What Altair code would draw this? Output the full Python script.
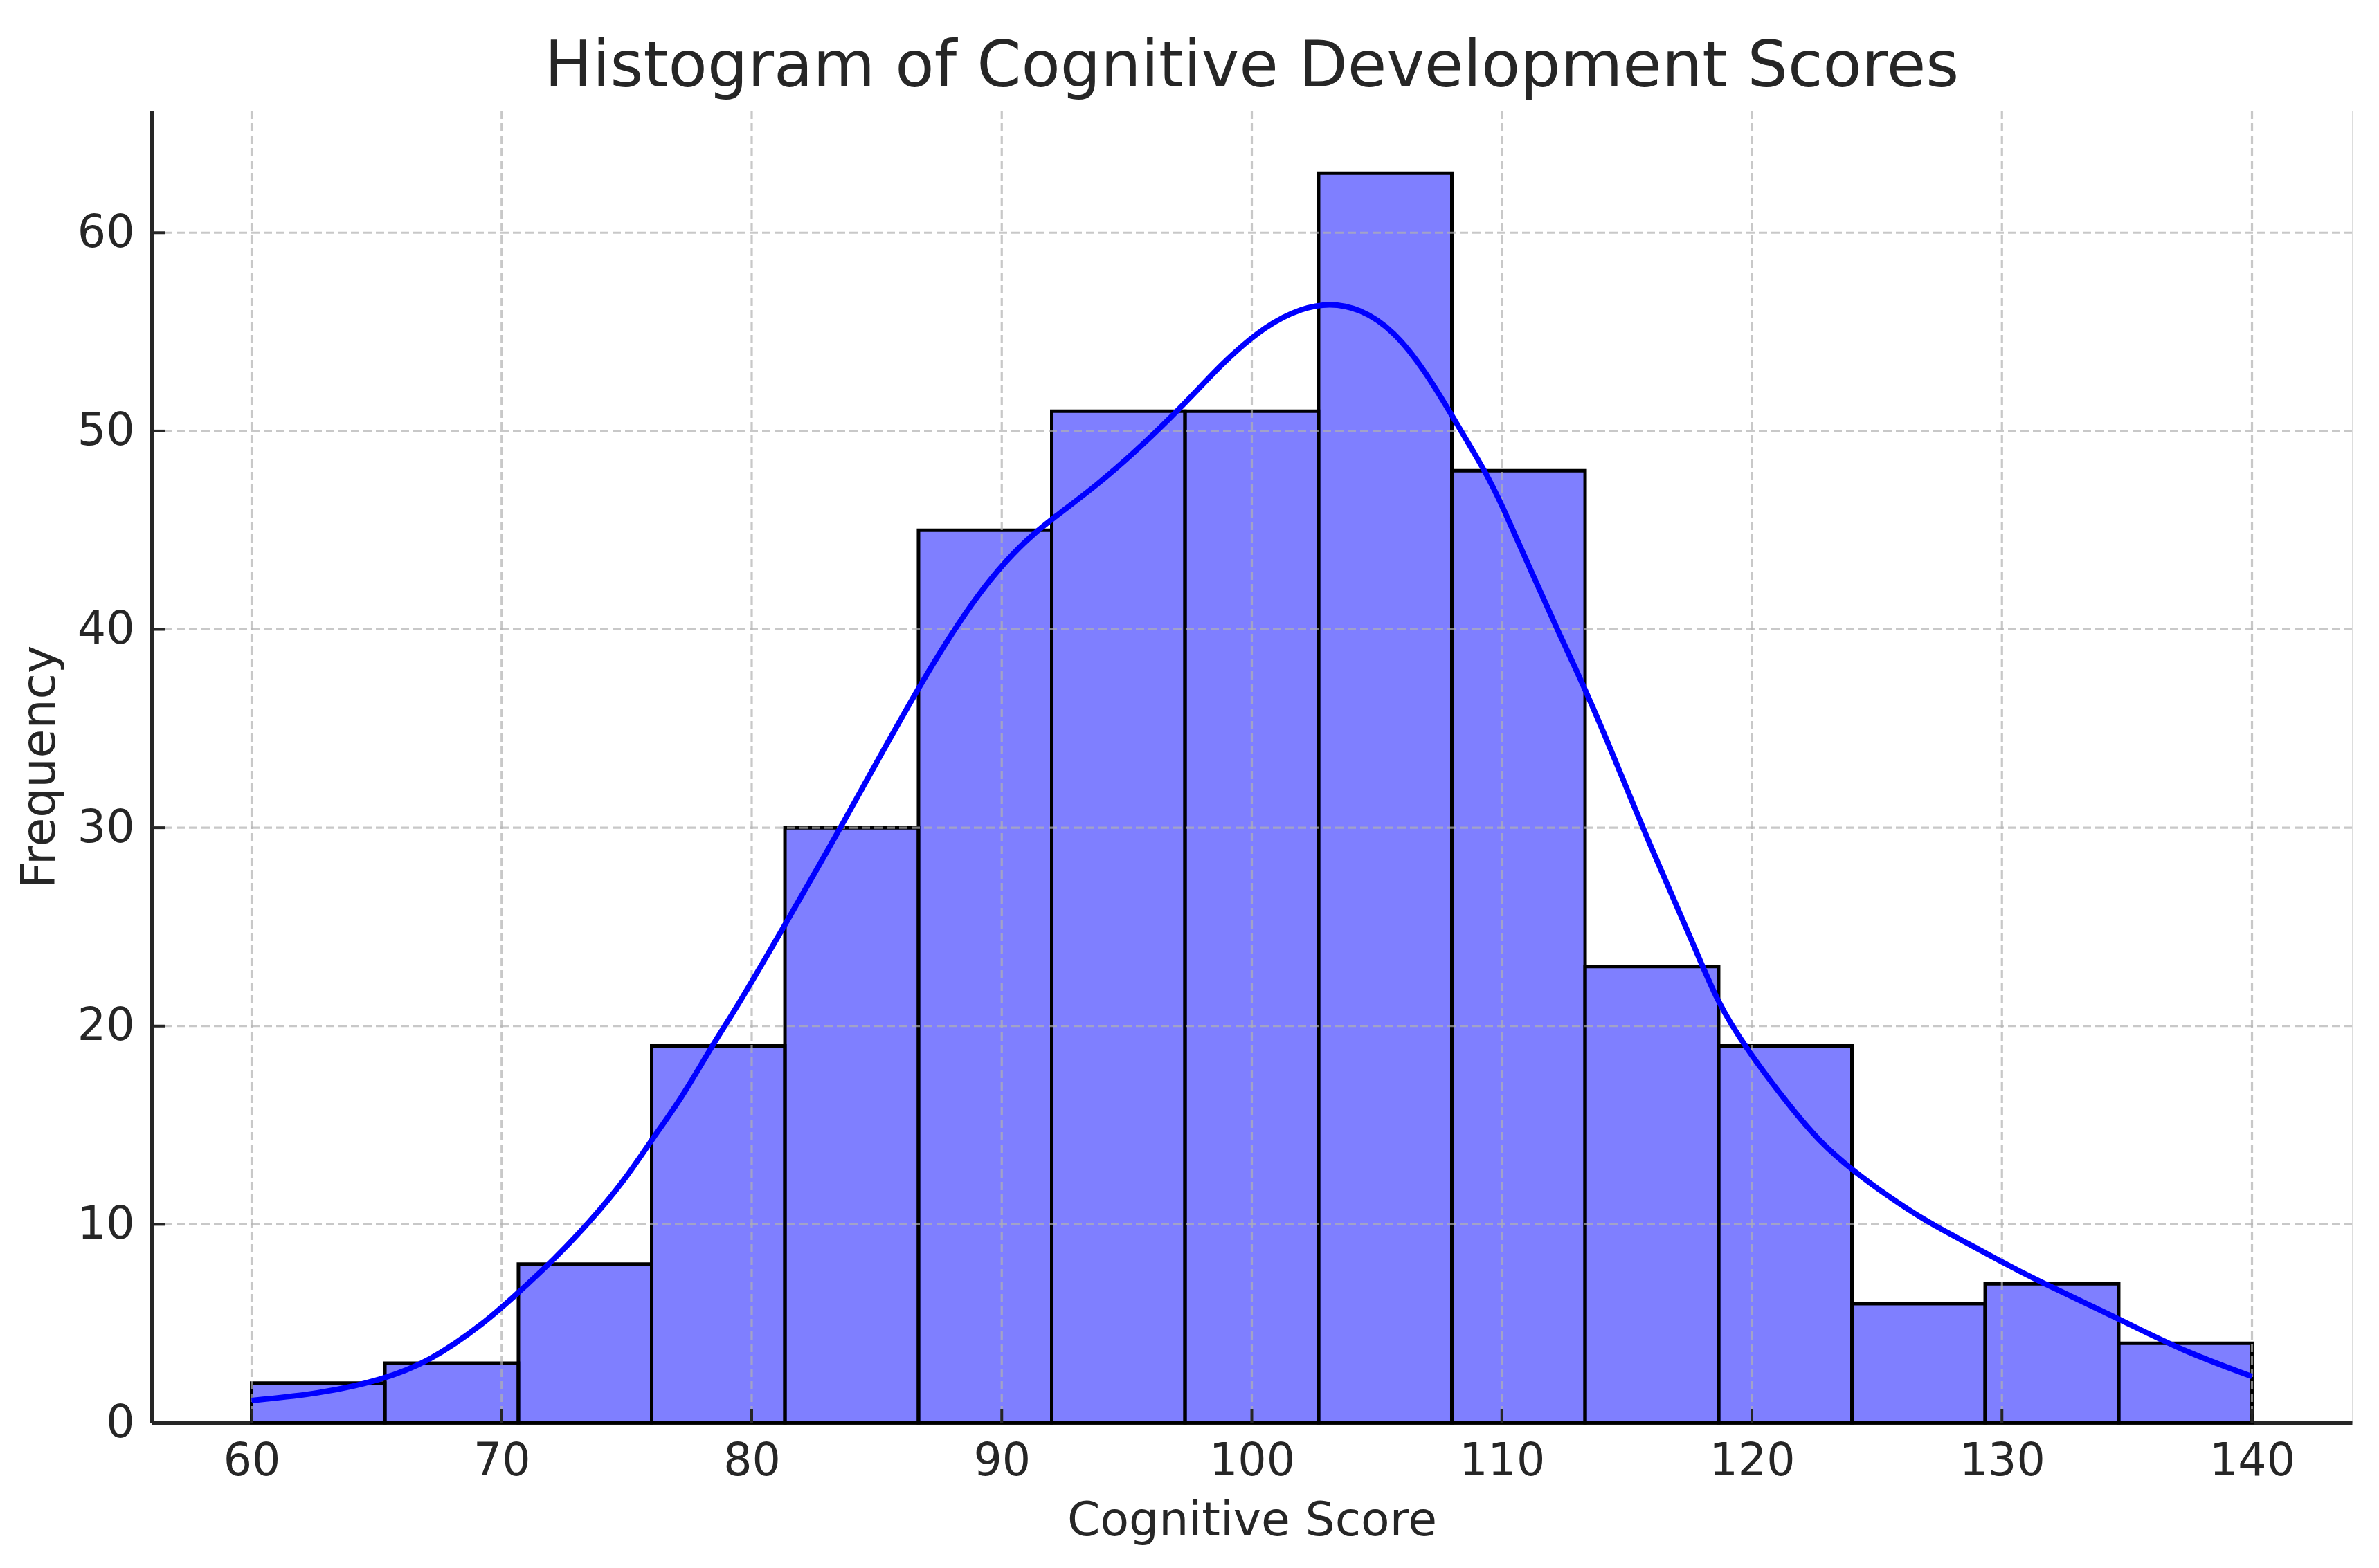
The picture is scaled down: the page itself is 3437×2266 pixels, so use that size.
import altair as alt
import pandas as pd

# ---- data ----
BIN_EDGES = [60.0, 65.33, 70.67, 76.0, 81.33, 86.67, 92.0, 97.33, 102.67,
             108.0, 113.33, 118.67, 124.0, 129.33, 134.67, 140.0]
COUNTS = [2, 3, 8, 19, 30, 45, 51, 51, 63, 48, 23, 19, 6, 7, 4]

KDE_X = [60.0, 62.7, 65.2, 67.1, 69.3, 70.7, 72.1, 73.5, 74.9, 76.0, 77.2,
         78.4, 79.5, 81.3, 83.5, 86.8, 89.1, 91.2, 93.7, 97.0, 98.8, 100.6,
         102.0, 103.1, 104.3, 105.7, 107.0, 107.9, 109.4, 110.0, 111.2, 112.3,
         113.3, 114.5, 115.8, 117.7, 118.6, 119.8, 121.4, 122.7, 124.1, 125.5,
         126.9, 128.3, 130.0, 131.2, 134.7, 137.2, 140.0]
KDE_Y = [1.12, 1.45, 2.15, 3.07, 5.0, 6.6, 8.23, 10.09, 12.18, 14.27, 16.36,
         18.98, 21.13, 25.04, 29.85, 37.45, 41.98, 44.92, 47.05, 50.9, 53.44, 55.37,
         56.2, 56.45, 56.2, 55.07, 52.9, 51.0, 47.84, 46.28, 42.86, 39.75,
         37.1, 33.52, 29.47, 24.03, 21.24, 18.8, 16.13, 14.16, 12.65, 11.37,
         10.21, 9.27, 8.1, 7.3, 5.23, 3.63, 2.33]

X_TICKS = [60, 70, 80, 90, 100, 110, 120, 130, 140]
Y_TICKS = [0, 10, 20, 30, 40, 50, 60]

TITLE = "Histogram of Cognitive Development Scores"
X_TITLE = "Cognitive Score"
Y_TITLE = "Frequency"

# ---- layout / style ----
W, H = 3179, 1896
FONT = "DejaVu Sans"
TXT = "#262626"

bars_df = pd.DataFrame({"x": BIN_EDGES[:-1], "x2": BIN_EDGES[1:], "y": COUNTS})
kde_df = pd.DataFrame({"x": KDE_X, "y": KDE_Y})
xt_df = pd.DataFrame({"x": X_TICKS})
yt_df = pd.DataFrame({"y": Y_TICKS})

xscale = alt.Scale(domain=[56, 144], nice=False, zero=False)
yscale = alt.Scale(domain=[0, 66.15], nice=False, zero=False)

xaxis = alt.Axis(values=X_TICKS, title=X_TITLE, grid=False, ticks=False, tickSize=0,
                 domain=True, domainColor=TXT, domainWidth=5,
                 labelFont=FONT, labelFontSize=65, labelColor=TXT,
                 labelPadding=75, labelBaseline="alphabetic", labelFlush=False,
                 titleFont=FONT, titleFontSize=68, titleFontWeight="normal",
                 titleColor=TXT, titleX=W / 2, titleY=162,
                 titleBaseline="alphabetic", titleAlign="center")
yaxis = alt.Axis(values=Y_TICKS, title=Y_TITLE, grid=False, ticks=False, tickSize=0,
                 domain=True, domainColor=TXT, domainWidth=5,
                 labelFont=FONT, labelFontSize=65, labelColor=TXT,
                 labelPadding=25, labelBaseline="middle", labelFlush=False,
                 titleFont=FONT, titleFontSize=68, titleFontWeight="normal",
                 titleColor=TXT, titleX=-141, titleY=H / 2, titleAngle=270,
                 titleBaseline="alphabetic", titleAlign="center")

bars = alt.Chart(bars_df).mark_rect(
    fill="blue", fillOpacity=0.5, stroke="black", strokeWidth=5
).encode(
    x=alt.X("x:Q", scale=xscale, axis=xaxis),
    x2="x2:Q",
    y=alt.Y("y:Q", scale=yscale, axis=yaxis),
    y2=alt.datum(0),
)

grid_v = alt.Chart(xt_df).mark_rule(
    color="#b0b0b0", opacity=0.7, strokeWidth=3.2, strokeDash=[12, 6]
).encode(
    x=alt.X("x:Q", scale=xscale, axis=xaxis),
    y=alt.value(0), y2=alt.value(H),
)

grid_h = alt.Chart(yt_df[yt_df["y"] > 0]).mark_rule(
    color="#b0b0b0", opacity=0.7, strokeWidth=3.2, strokeDash=[12, 6]
).encode(
    y=alt.Y("y:Q", scale=yscale, axis=yaxis),
    x=alt.value(0), x2=alt.value(W),
)

kde = alt.Chart(kde_df).mark_line(
    color="blue", strokeWidth=8, interpolate="basis"
).encode(
    x=alt.X("x:Q", scale=xscale, axis=xaxis),
    y=alt.Y("y:Q", scale=yscale, axis=yaxis),
)

xticks = alt.Chart(xt_df).mark_rule(color=TXT, strokeWidth=4).encode(
    x=alt.X("x:Q", scale=xscale, axis=xaxis),
    y=alt.value(H), y2=alt.value(H - 20),
)

yticks = alt.Chart(yt_df).mark_rule(color=TXT, strokeWidth=4).encode(
    y=alt.Y("y:Q", scale=yscale, axis=yaxis),
    x=alt.value(0), x2=alt.value(20),
)

chart = alt.layer(bars, grid_v, grid_h, kde, xticks, yticks).properties(
    width=W, height=H,
    title=alt.TitleParams(TITLE, font=FONT, fontSize=92, fontWeight="normal",
                          color=TXT, anchor="middle", frame="group",
                          baseline="alphabetic", offset=33, dy=92),
    autosize=alt.AutoSizeParams(type="none"),
    padding={"left": 211, "top": 152, "right": 20, "bottom": 190},
).configure_view(stroke=None).configure(background="white")

chart.save("out.html", embed_options={"renderer": "svg", "actions": False})
